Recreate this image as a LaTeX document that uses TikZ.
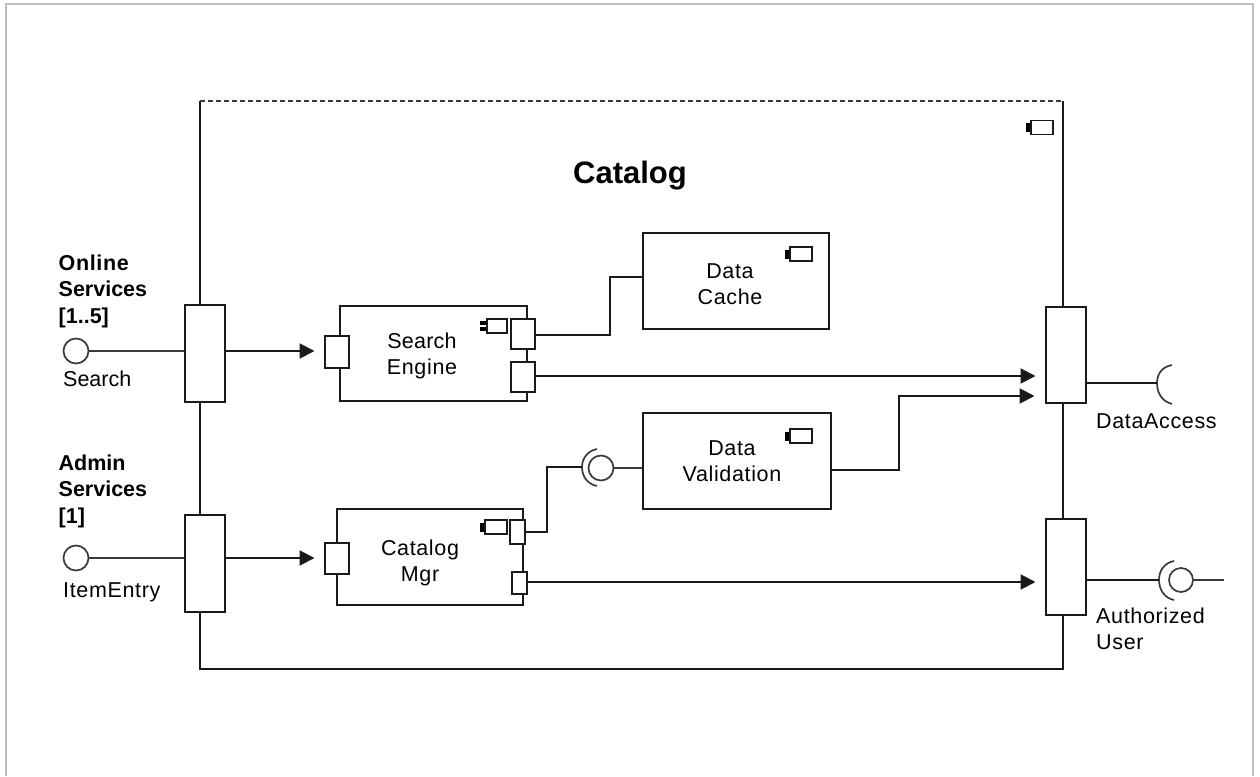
\documentclass[tikz,border=0pt]{standalone}
\usepackage{fontspec}
\setmainfont{Liberation Sans}
\usetikzlibrary{arrows.meta}
\definecolor{frame}{HTML}{BEBEBE}
\definecolor{ink}{HTML}{1A1A1A}
\definecolor{soft}{HTML}{3A3A3A}
\newfontfamily\wideface[LetterSpace=3]{Liberation Sans}
\tikzset{
  x=1pt,y=-1pt,
  box/.style={draw=ink,line width=2pt,fill=white,rectangle,inner sep=0pt},
  anchorpt/.style={inner sep=0pt,minimum size=0pt},
  conn/.style={draw=ink,line width=2pt},
  softconn/.style={draw=soft,line width=2.2pt},
  flow/.style={conn,-{Triangle[length=15pt,width=15pt]},shorten >=9pt},
  ball/.style={draw=soft,line width=1.7pt,fill=white,circle,inner sep=0pt,minimum size=25pt},
  cup/.style={draw=soft,line width=1.7pt},
  lab/.style={inner sep=0pt,align=left,anchor=base west,font=\fontsize{21.5}{26}\selectfont},
  widelab/.style={lab,font=\fontsize{21.5}{26}\wideface},
  blab/.style={lab,font=\fontsize{21.5}{26.5}\selectfont\bfseries},
  clab/.style={inner sep=0pt,align=center,anchor=base,font=\fontsize{21.5}{26}\wideface},
  iconbody/.style={draw=ink,line width=1.7pt,fill=white,rectangle,inner sep=0pt,minimum width=22pt,minimum height=14pt},
  iconjack/.style={fill=black,rectangle,inner sep=0pt,minimum width=6pt,minimum height=9pt},
  icontab/.style={fill=black,rectangle,inner sep=0pt,minimum width=8pt,minimum height=4pt},
}
\newcommand{\compicon}[3]{%
  \node[iconjack] (#1j) at (#2-13.5,#3) {};
  \node[iconbody] (#1) at (#2,#3) {};
}
\begin{document}
\begin{tikzpicture}
\useasboundingbox (0,0) rectangle (1260,776);
% page frame
\coordinate (fa) at (6,776);
\coordinate (fb) at (6,4);
\coordinate (fc) at (1253,4);
\coordinate (fd) at (1253,776);
\draw[frame,line width=2pt] (fa) -- (fb) -- (fc) -- (fd);

% catalog frame
\node[anchorpt,minimum width=862pt,minimum height=568pt] (cat) at (631.5,385) {};
\draw[conn] (cat.north west) -- (cat.south west) -- (cat.south east) -- (cat.north east);
\draw[soft,line width=2pt,dash pattern=on 5pt off 3pt] (cat.north west) -- (cat.north east);
\compicon{caticon}{1042}{127.5}
\node[inner sep=0pt,anchor=base,font=\fontsize{31}{34}\selectfont\bfseries] (cattitle) at (630,183) {Catalog};

% components
\node[box,minimum width=187pt,minimum height=95pt] (se) at (433.5,353.5) {};
\node[box,minimum width=186pt,minimum height=96pt] (cm) at (430,557) {};
\node[box,minimum width=186pt,minimum height=96pt] (dc) at (736,281) {};
\node[box,minimum width=188pt,minimum height=96pt] (dv) at (737,461) {};
\node[clab] (setext) at (422,374) {{\addfontfeature{LetterSpace=1}Search}\\Engine};
\node[clab] (cmtext) at (420,581) {Catalog\\Mgr};
\node[clab] (dctext) at (730,304) {Data\\Cache};
\node[clab] (dvtext) at (732,481) {Data\\Validation};
\node[icontab] (setab1) at (484,323) {};
\node[icontab] (setab2) at (484,329) {};
\node[iconbody,minimum width=20pt] (seicon) at (497,326) {};
\compicon{cmicon}{496}{527}
\compicon{dcicon}{801}{254}
\compicon{dvicon}{801}{436}

% ports
\node[box,minimum width=40pt,minimum height=97pt] (pl1) at (204.5,353.5) {};
\node[box,minimum width=40pt,minimum height=97pt] (pl2) at (204.5,563.5) {};
\node[box,minimum width=40pt,minimum height=96pt] (pr1) at (1065.5,355) {};
\node[box,minimum width=40pt,minimum height=96pt] (pr2) at (1065.5,567) {};
\node[box,minimum width=24pt,minimum height=32pt] (sei) at (336.5,351.5) {};
\node[box,minimum width=24pt,minimum height=31pt] (cmi) at (336.5,558.5) {};
\node[box,minimum width=24pt,minimum height=30pt] (seo1) at (522.5,334) {};
\node[box,minimum width=24pt,minimum height=30pt] (seo2) at (522.5,377) {};
\node[box,minimum width=14.5pt,minimum height=24pt] (cmo1) at (517.5,532) {};
\node[box,minimum width=14.5pt,minimum height=22pt] (cmo2) at (519.5,583) {};

% provided / required interfaces
\node[ball] (isearch) at (76,351) {};
\node[ball] (iitem) at (76,558) {};
\node[ball] (ivalid) at (601,468) {};
\node[ball,minimum size=24pt] (iauth) at (1181,580) {};
\coordinate (authend) at (1224,580);
\coordinate (dasock) at (1157,383);
\coordinate (ausock) at (1159,580);
\coordinate (vasock) at (582,467);

\draw[cup] (1172,365) .. controls (1161,367) and (1157,375) .. (dasock) .. controls (1157,392) and (1161,401) .. (1172,404);
\draw[cup] (1174,561) .. controls (1164,563) and (1159,571) .. (ausock) .. controls (1159,589) and (1164,598) .. (1174,600);
\draw[cup] (597,449) .. controls (587,451) and (582,459) .. (vasock) .. controls (582,476) and (587,484) .. (597,486);

% connectors
\draw[softconn] (isearch) -- (pl1.west |- isearch);
\draw[softconn] (iitem) -- (pl2.west |- iitem);
\draw[flow] (pl1.east |- isearch) -- (sei.west |- isearch);
\draw[flow] (pl2.east |- iitem) -- (cmi.west |- iitem);
\draw[conn] (seo1.east |- 0,335) -- (610,335) -- (610,277) -- (dc.west |- 610,277);
\draw[flow] (seo2.east |- 0,376) -- (pr1.west |- 0,376);
\draw[conn] (cmo1.east) -- (547,532) -- (547,467) -- (vasock);
\draw[softconn] (ivalid) -- (dv.west |- ivalid);
\draw[flow,shorten >=10pt] (dv.east |- 0,470) -- (899,470) -- (899,396) -- (pr1.west |- 0,396);
\draw[flow] (cmo2.east |- 0,582) -- (pr2.west |- 0,582);
\draw[conn] (pr1.east |- dasock) -- (dasock);
\draw[conn] (pr2.east |- ausock) -- (ausock);
\draw[softconn] (iauth) -- (authend);

% labels
\node[blab] (lonline) at (58.5,323) {{\addfontfeature{LetterSpace=3}Online}\\Services\\{[}1..5{]}};
\node[blab] (ladmin) at (58.5,523) {Admin\\Services\\{[}1{]}};
\node[lab] (lsearch) at (63,386) {Search};
\node[widelab] (litem) at (63,597) {ItemEntry};
\node[widelab] (lda) at (1096,428) {DataAccess};
\node[widelab] (lau) at (1096,649) {Authorized\\User};
\end{tikzpicture}
\end{document}
